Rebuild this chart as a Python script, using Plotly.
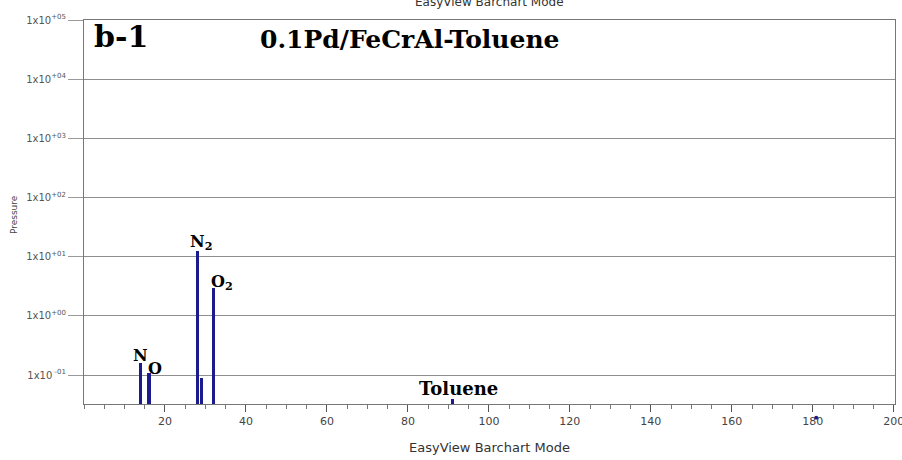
import numpy as np
import plotly.graph_objects as go

# Data
mass = [14, 16, 28, 29, 32, 91]
pressure = [0.158, 0.11, 12.3, 0.089, 2.9, 0.039]
stray_mass = [181]

ytick_vals = [0.1, 1, 10, 100, 1000, 10000, 100000]
ytick_text = ["1x10<sup> -01</sup>", "1x10<sup>+00</sup>", "1x10<sup>+01</sup>",
              "1x10<sup>+02</sup>", "1x10<sup>+03</sup>", "1x10<sup>+04</sup>",
              "1x10<sup>+05</sup>"]
xtick_vals = [20, 40, 60, 80, 100, 120, 140, 160, 180, 200]

labels = [
    ("N<sub>2</sub>", 28, 12.3, 4, 9, 16),
    ("O<sub>2</sub>", 32, 2.9, 8, 6, 16),
    ("N", 14, 0.158, 0, 8, 16),
    ("O", 16, 0.11, 6, 4, 16),
    ("Toluene", 91, 0.039, 6, 11, 18),
]

bar_color = "#1b1b8e"
grid_color = "#8f8f8f"
serif = "DejaVu Serif, serif"
sans = "DejaVu Sans, sans-serif"

fig = go.Figure()
fig.add_trace(go.Bar(x=mass, y=pressure, width=0.85, marker=dict(color=bar_color, line=dict(width=0)),
                     showlegend=False))

annotations = []
for text, x, y, xs, ys, fs in labels:
    annotations.append(dict(x=x, y=np.log10(y), xref="x", yref="y", text="<b>" + text + "</b>",
                            showarrow=False, xanchor="center", yanchor="middle", xshift=xs, yshift=ys,
                            font=dict(family=serif, size=fs, color="black")))
# stray dot just below the axis
for sx in stray_mass:
    annotations.append(dict(x=sx, y=0, xref="x", yref="paper", text="●", showarrow=False,
                            xanchor="center", yanchor="middle", yshift=-13,
                            font=dict(family=sans, size=5, color=bar_color)))
annotations.append(dict(x=0.0099, y=0.956, xref="paper", yref="paper", text="<b>b-1</b>",
                        showarrow=False, xanchor="left", yanchor="middle",
                        font=dict(family=serif, size=30, color="black")))
annotations.append(dict(x=0.2145, y=0.948, xref="paper", yref="paper", text="<b>0.1Pd/FeCrAl-Toluene</b>",
                        showarrow=False, xanchor="left", yanchor="middle",
                        font=dict(family=serif, size=25, color="black")))
annotations.append(dict(x=0.5, y=1, xref="paper", yref="paper", text="EasyView Barchart Mode",
                        showarrow=False, xanchor="center", yanchor="middle", yshift=18,
                        font=dict(family=sans, size=12, color="#333333")))
annotations.append(dict(x=0.5, y=0, xref="paper", yref="paper", text="EasyView Barchart Mode",
                        showarrow=False, xanchor="center", yanchor="middle", yshift=-43,
                        font=dict(family=sans, size=13, color="#333333")))
annotations.append(dict(x=0, y=0.492, xref="paper", yref="paper", text="Pressure", textangle=-90,
                        showarrow=False, xanchor="center", yanchor="middle", xshift=-70,
                        font=dict(family=sans, size=9, color="#444444")))

fig.update_layout(
    width=902, height=460,
    margin=dict(l=84, r=7, t=20, b=56),
    plot_bgcolor="white", paper_bgcolor="white",
    bargap=0,
    annotations=annotations,
    xaxis=dict(range=[0, 200.3], tickvals=xtick_vals, ticks="outside", ticklen=7,
               tickcolor="#555555", showgrid=False, zeroline=False, automargin=False,
               ticklabeloverflow="allow",
               showline=True, linecolor="#777777", linewidth=1, mirror=True,
               minor=dict(dtick=5, ticks="outside", ticklen=4, tickcolor="#777777"),
               tickfont=dict(family=sans, size=11, color="#444444")),
    yaxis=dict(type="log", range=[-1.49, 5], tickvals=ytick_vals, ticktext=ytick_text,
               ticks="outside", ticklen=15, tickcolor="#9a9a9a", automargin=False,
               showgrid=True, gridcolor=grid_color, gridwidth=1,
               showline=True, linecolor="#777777", linewidth=1, mirror=True,
               zeroline=False,
               tickfont=dict(family=sans, size=10, color="#555555")),
)

fig.write_html("out.html", config={"displayModeBar": False},
               post_script="document.body.style.margin='0';")
